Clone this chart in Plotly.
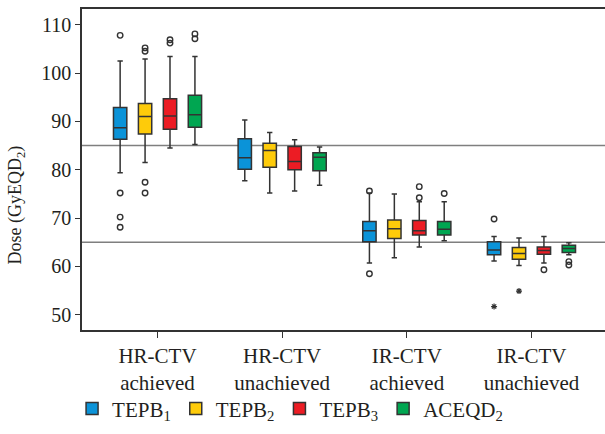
import plotly.graph_objects as go

# ---------------- data ----------------
categories = ["HR-CTV<br>achieved", "HR-CTV<br>unachieved",
              "IR-CTV<br>achieved", "IR-CTV<br>unachieved"]
series_names = ["TEPB<sub>1</sub>", "TEPB<sub>2</sub>", "TEPB<sub>3</sub>", "ACEQD<sub>2</sub>"]
series_colors = ["#0b93d8", "#fecb0a", "#ec1c24", "#00a651"]

# one row per series, one value per category
lower_fence = [[79.4, 77.7, 60.7, 61.1],
               [81.5, 75.2, 61.8, 60.2],
               [84.5, 75.6, 64.0, 60.7],
               [85.2, 76.8, 65.3, 62.4]]
q1_values = [[86.3, 80.1, 65.1, 62.4],
             [87.4, 80.5, 65.8, 61.5],
             [88.4, 80.0, 66.5, 62.5],
             [88.8, 79.8, 66.5, 62.9]]
median_values = [[88.7, 82.5, 67.4, 63.4],
                 [91.0, 84.0, 67.8, 62.7],
                 [91.1, 81.7, 67.4, 63.3],
                 [91.4, 82.6, 67.7, 63.7]]
q3_values = [[92.9, 86.4, 69.3, 65.1],
             [93.7, 85.5, 69.6, 63.9],
             [94.7, 84.8, 69.5, 64.0],
             [95.4, 83.5, 69.3, 64.4]]
upper_fence = [[102.5, 90.3, 75.2, 66.2],
               [102.9, 87.7, 75.0, 65.9],
               [103.4, 86.2, 73.4, 66.2],
               [103.4, 84.7, 73.4, 64.9]]

# outliers (circles): category index and value, per series
outlier_cats = [[0, 0, 0, 0, 2, 2, 3],
                [0, 0, 0, 0],
                [0, 0, 2, 2, 3],
                [0, 0, 2, 3, 3]]
outlier_vals = [[107.8, 75.2, 70.2, 68.1, 75.6, 58.5, 69.8],
                [105.2, 104.5, 77.4, 75.2],
                [106.9, 106.2, 76.5, 74.2, 59.3],
                [108.1, 107.1, 75.1, 61.0, 60.3]]
# extreme values (asterisks)
extreme_cats = [[3], [3], [], []]
extreme_vals = [[51.7], [54.9], [], []]

reference_lines = [85, 65]
y_ticks = [50, 60, 70, 80, 90, 100, 110]

# ---------------- figure ----------------
FONT = "Liberation Serif"
TXT = "#231f20"
EDGE = "#333333"
slot = 0.2
n = len(series_names)

fig = go.Figure()
for s in range(n):
    off = (s - (n - 1) / 2) * slot
    xs = [i + off for i in range(len(categories))]
    fig.add_trace(go.Box(
        x=xs, q1=q1_values[s], median=median_values[s], q3=q3_values[s],
        lowerfence=lower_fence[s], upperfence=upper_fence[s],
        name=series_names[s], fillcolor=series_colors[s],
        line=dict(color=EDGE, width=1.5), width=0.107, whiskerwidth=0.4,
        boxpoints=False, hoverinfo="skip", showlegend=True,
    ))
for s in range(n):
    off = (s - (n - 1) / 2) * slot
    fig.add_trace(go.Scatter(
        x=[c + off for c in outlier_cats[s]], y=outlier_vals[s], mode="markers",
        marker=dict(symbol="circle-open", size=5.5, color=EDGE, line=dict(width=1.4)),
        showlegend=False, hoverinfo="skip",
    ))
    if extreme_vals[s]:
        fig.add_trace(go.Scatter(
            x=[c + off for c in extreme_cats[s]], y=extreme_vals[s], mode="markers",
            marker=dict(symbol="asterisk-open", size=5, color=EDGE, line=dict(width=1.2, color=EDGE)),
            showlegend=False, hoverinfo="skip",
        ))

for yv in reference_lines:
    fig.add_hline(y=yv, line=dict(color="#7f7f7f", width=1.4), layer="below")

fig.add_annotation(
    text="Dose (GyEQD<sub>2</sub>)", textangle=-90, xref="paper", yref="paper",
    x=-0.125, y=0.39, xanchor="center", yanchor="middle", showarrow=False,
    font=dict(family=FONT, size=18, color=TXT),
)

fig.update_layout(
    width=605, height=434,
    margin=dict(l=82, r=0, t=9, b=104),
    paper_bgcolor="white", plot_bgcolor="white",
    font=dict(family=FONT, color=TXT),
    showlegend=True,
    legend=dict(orientation="h", x=-0.019, xanchor="left", y=-0.246, yanchor="middle",
                font=dict(family=FONT, size=21, color=TXT),
                itemwidth=30, bgcolor="rgba(0,0,0,0)"),
    xaxis=dict(range=[-0.606, 3.59], tickvals=list(range(len(categories))), ticktext=categories,
               showline=True, mirror=True, linecolor=EDGE, linewidth=1.5,
               ticks="outside", ticklen=6, tickcolor=EDGE, tickwidth=1.3,
               showgrid=False, zeroline=False,
               tickfont=dict(family=FONT, size=21, color=TXT)),
    yaxis=dict(range=[46.85, 113.25], tickvals=y_ticks,
               showline=True, linecolor=EDGE, linewidth=1.5,
               ticks="outside", ticklen=5, tickcolor=EDGE, tickwidth=1.3,
               showgrid=False, zeroline=False,
               tickfont=dict(family=FONT, size=20, color=TXT)),
)

fig.write_html("out.html", config={"displayModeBar": False},
               post_script="document.body.style.margin='0';")
